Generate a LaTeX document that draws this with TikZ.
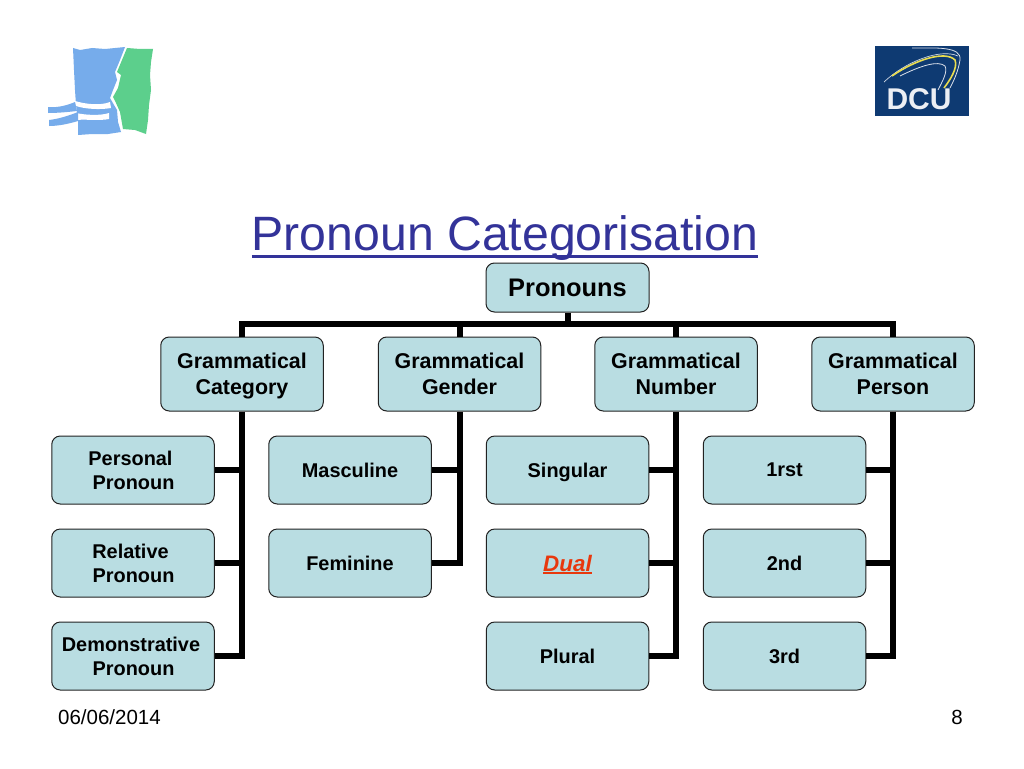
\documentclass[tikz,border=0pt]{standalone}
\usepackage{fontspec}
\setmainfont{Liberation Sans}
\definecolor{boxfill}{HTML}{B9DDE2}
\definecolor{boxline}{HTML}{222222}
\definecolor{titleblue}{HTML}{333399}
\definecolor{dualred}{HTML}{E8380D}
\definecolor{logoblue}{HTML}{76ACEB}
\definecolor{logogreen}{HTML}{5CCF8C}
\definecolor{dcublue}{HTML}{0E3A72}
\definecolor{dcuyellow}{HTML}{E9DC4E}
\newcommand\myul[3]{\setbox0\hbox{#1}\rlap{\rule[-#2]{\wd0}{#3}}\box0 }
\newcommand\fs[2]{\fontsize{#1pt}{#2pt}\selectfont}
\tikzset{
  x=1pt,y=-1pt,
  box/.style={draw=boxline,line width=1pt,fill=boxfill,rounded corners=8.5pt,align=center,inner sep=0pt,text=black,text depth=0pt},
  rootbox/.style={box,minimum width=163pt,minimum height=49pt,font=\bfseries\fs{25.4}{30}},
  headbox/.style={box,minimum width=162.5pt,minimum height=74pt,font=\bfseries\fs{21.4}{26}},
  leafbox/.style={box,minimum width=162.5pt,minimum height=68pt,font=\bfseries\fs{19.9}{24}},
  link/.style={line width=6pt,draw=black,line cap=butt,line join=miter},
  plain/.style={inner sep=0pt,text=black,font=\fs{20.5}{24}},
}
\begin{document}
\begin{tikzpicture}
\useasboundingbox (0,0) rectangle (1024,768);
\fill[white] (0,0) rectangle (1024,768);

% left logo
\fill[logoblue] (73,48) -- (80,50) -- (92,48) -- (105,49) -- (125,47) -- (120,60) -- (115,72) -- (117,80) -- (113,90) -- (110,98) -- (114,105) -- (117,110) -- (118,122) -- (121,132) -- (108,134) -- (92,134) -- (78,135) -- (78,120) -- (76,105) -- (75,90) -- (74,70) -- cycle;
\fill[logogreen] (127,48) -- (140,49) -- (153,49) -- (151,62) -- (150,75) -- (151,90) -- (149,105) -- (148,120) -- (146,134) -- (135,130) -- (123,129) -- (120,112) -- (116,103) -- (113,97) -- (118,88) -- (121,75) -- (117,72) -- cycle;
\fill[white] (75,101) .. controls (85,104) and (100,106) .. (110,102) -- (111,108) .. controls (100,110) and (85,109) .. (76,106) -- cycle;
\fill[white] (76,113) .. controls (85,115) and (100,116) .. (109,113) -- (109,119) .. controls (100,121) and (85,119) .. (77,120) -- cycle;
\fill[logoblue] (48,107) .. controls (58,108) and (68,105) .. (75,102) -- (77,111) .. controls (68,112) and (58,113) .. (48,113) -- cycle;
\fill[logoblue] (49,120) .. controls (58,119) and (68,116) .. (78,112) -- (78,121) .. controls (68,124) and (58,126) .. (49,126) -- cycle;

% DCU logo
\fill[dcublue] (875,46) rectangle (969,116);
\draw[white!80!dcublue,line width=0.7pt] (884,82) .. controls (905,62) and (940,48) .. (958,56);
\draw[dcuyellow,line width=1.6pt] (892,76) .. controls (915,60) and (945,50) .. (955,60) .. controls (958,68) and (950,80) .. (944,88);
\draw[white!85!dcublue,line width=0.8pt] (900,76) .. controls (920,66) and (938,60) .. (945,66) .. controls (948,72) and (942,82) .. (938,90);
\draw[white!85!dcublue,line width=0.8pt] (912,48) .. controls (935,48) and (962,46) .. (960,60) .. controls (958,72) and (954,80) .. (950,88);
\node[inner sep=0pt,text=white!92!dcublue,font=\bfseries\fs{30}{36}] (dcu) at (919,99.5) {DCU};

% title
\node[inner sep=0pt,anchor=base,text=titleblue,font=\fs{48.2}{56}] (title) at (505,250) {\myul{Pronoun Categorisation}{7.5pt}{2.6pt}};

% root and heads
\node[rootbox] (root) at (567.5,287.5) {Pronouns};
\node[headbox] (gc) at (242,374) {Grammatical\\Category};
\node[headbox] (gg) at (459.5,374) {Grammatical\\Gender};
\node[headbox] (gn) at (676,374) {Grammatical\\Number};
\node[headbox] (gp) at (893,374) {Grammatical\\Person};

% leaves
\node[leafbox] (c1) at (133,470) {Personal\hspace*{5pt}\\\hspace*{1pt}Pronoun};
\node[leafbox] (c2) at (133,563) {Relative\hspace*{5pt}\\\hspace*{1pt}Pronoun};
\node[leafbox] (c3) at (133,656) {Demonstrative\hspace*{4pt}\\\hspace*{1pt}Pronoun};
\node[leafbox] (g1) at (350,470) {Masculine};
\node[leafbox] (g2) at (350,563) {Feminine};
\node[leafbox] (n1) at (567.5,470) {Singular};
\node[leafbox] (n2) at (567.5,563) {\textcolor{dualred}{\fs{22.4}{26}\myul{\itshape Dual}{3pt}{1.8pt}}};
\node[leafbox] (n3) at (567.5,656) {Plural};
\node[leafbox] (p1) at (784.5,470) {1rst};
\node[leafbox] (p2) at (784.5,563) {2nd};
\node[leafbox] (p3) at (784.5,656) {3rd};

% connectors
\coordinate (bus) at (567.5,324);
\draw[link] (root.south) -- (bus);
\draw[link] (gc.north) |- (bus);
\draw[link] (gp.north) |- (bus);
\draw[link] (gg.north) -- (gg.north |- bus);
\draw[link] (gn.north) -- (gn.north |- bus);
\draw[link] (gc.south) |- (c3.east);
\draw[link] (c1.east) -- (c1.east -| gc.south);
\draw[link] (c2.east) -- (c2.east -| gc.south);
\draw[link] (gg.south) |- (g2.east);
\draw[link] (g1.east) -- (g1.east -| gg.south);
\draw[link] (gn.south) |- (n3.east);
\draw[link] (n1.east) -- (n1.east -| gn.south);
\draw[link] (n2.east) -- (n2.east -| gn.south);
\draw[link] (gp.south) |- (p3.east);
\draw[link] (p1.east) -- (p1.east -| gp.south);
\draw[link] (p2.east) -- (p2.east -| gp.south);

% footer
\node[plain,anchor=base west] (date) at (58,724) {06/06/2014};
\node[plain,anchor=base east] (page) at (963,724) {8};
\end{tikzpicture}
\end{document}
